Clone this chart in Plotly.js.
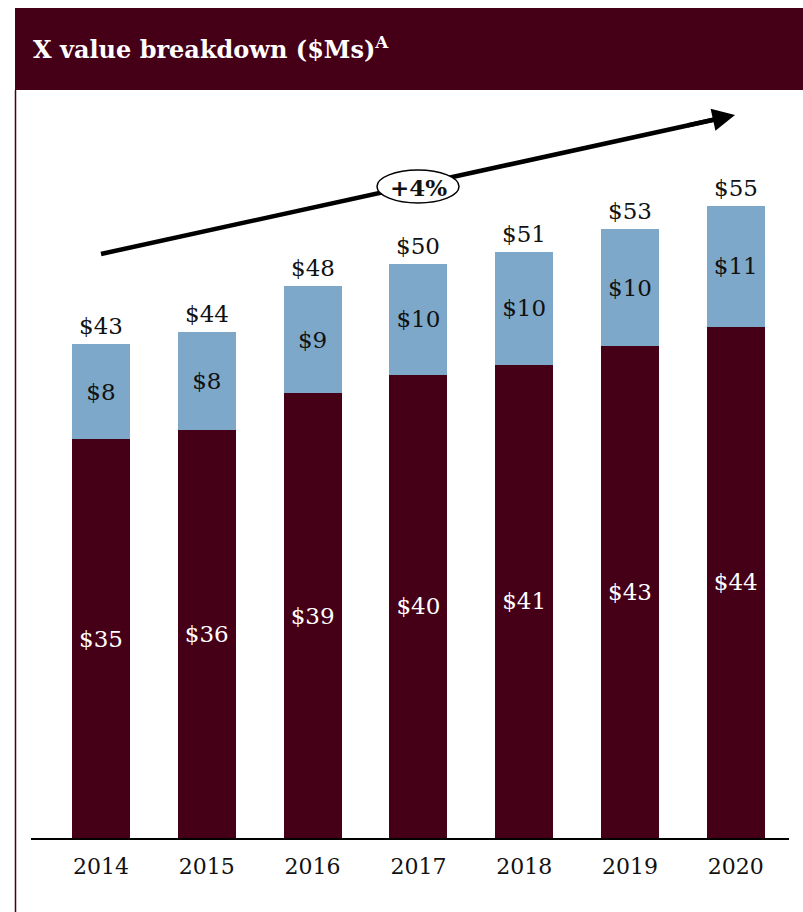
<!DOCTYPE html>
<html>
<head>
<meta charset="utf-8">
<script src="https://cdn.plot.ly/plotly-3.0.1.min.js"></script>
<style>html,body{margin:0;padding:0;background:#fff;}#chart{width:803px;height:912px;}</style>
</head>
<body>
<div id="chart"></div>
<script>
// ---- data ----
const years = ['2014', '2015', '2016', '2017', '2018', '2019', '2020'];
const baseValues = [34.7, 35.5, 38.7, 40.3, 41.2, 42.8, 44.5];
const topValues = [8.3, 8.5, 9.3, 9.7, 9.8, 10.2, 10.5];
const totals = [43, 44, 48, 50, 51, 53, 55];
const baseLabels = ['$35', '$36', '$39', '$40', '$41', '$43', '$44'];
const topLabels = ['$8', '$8', '$9', '$10', '$10', '$10', '$11'];
const totalLabels = ['$43', '$44', '$48', '$50', '$51', '$53', '$55'];
const growthLabel = '+4%';
const titleText = 'X value breakdown ($Ms)<sup>A</sup>';

// ---- style ----
const MAROON = '#450017';
const BLUE = '#7ea8ca';
const FONT = 'DejaVu Serif, Georgia, serif';

const traces = [
  {
    type: 'bar', x: years, y: baseValues, width: 0.55,
    marker: {color: MAROON, line: {width: 0}},
    text: baseLabels, textposition: 'inside', insidetextanchor: 'middle',
    textfont: {family: FONT, size: 23, color: '#ffffff'},
    hoverinfo: 'skip'
  },
  {
    type: 'bar', x: years, y: topValues, width: 0.55,
    marker: {color: BLUE, line: {width: 0}},
    text: topLabels, textposition: 'inside', insidetextanchor: 'middle',
    textfont: {family: FONT, size: 23, color: '#111111'},
    hoverinfo: 'skip'
  }
];

// pixel -> paper helpers for decorations (plot area: x 31..789, y 100..838)
const L = 31, W = 758, B = 838, H = 738;
const px = p => (p - L) / W;
const py = p => (B - p) / H;

// totals above each bar (x given as category index)
const totalAnnotations = years.map((yr, i) => ({
  xref: 'x', yref: 'y', x: i, y: totals[i], text: totalLabels[i],
  showarrow: false, xanchor: 'center', yanchor: 'middle', yshift: 18,
  font: {family: FONT, size: 23, color: '#111111'}
}));

const layout = {
  width: 803, height: 912,
  margin: {l: 31, r: 14, t: 100, b: 74},
  paper_bgcolor: '#ffffff', plot_bgcolor: '#ffffff',
  barmode: 'stack',
  showlegend: false,
  font: {family: FONT, color: '#111111'},
  title: {
    text: titleText, x: 33 / 803, xanchor: 'left', xref: 'container',
    y: 1 - 50 / 912, yanchor: 'middle', yref: 'container',
    font: {family: FONT, size: 24, color: '#ffffff', weight: 'bold'}
  },
  xaxis: {
    type: 'category', range: [-0.6616, 6.503],
    showline: true, linecolor: '#000000', linewidth: 2,
    showgrid: false, zeroline: false,
    ticks: 'outside', ticklen: 8, tickcolor: 'rgba(0,0,0,0)',
    tickfont: {family: FONT, size: 22, color: '#111111'}
  },
  yaxis: {
    range: [0, 64.23], visible: false, showgrid: false, zeroline: false
  },
  shapes: [
    {type: 'rect', xref: 'paper', yref: 'paper', x0: px(15), x1: px(803), y0: py(90), y1: py(8),
     fillcolor: MAROON, line: {width: 0}, layer: 'below'},
    {type: 'line', xref: 'paper', yref: 'paper', x0: px(15.5), x1: px(15.5), y0: py(90), y1: py(912),
     line: {color: MAROON, width: 1.5}},
    {type: 'line', xref: 'paper', yref: 'paper', x0: px(101), y0: py(254), x1: px(716), y1: py(119.3),
     line: {color: '#000000', width: 4.5}, layer: 'above'},
    {type: 'circle', xref: 'paper', yref: 'paper', x0: px(377), x1: px(459), y0: py(203), y1: py(170),
     fillcolor: '#ffffff', line: {color: '#000000', width: 1.5}, layer: 'above'}
  ],
  annotations: [
    {xref: 'paper', yref: 'paper', x: px(735), y: py(115), ax: -48.8, ay: 10.7,
     axref: 'pixel', ayref: 'pixel', showarrow: true, arrowhead: 2, arrowsize: 1, arrowwidth: 4.5,
     arrowcolor: '#000000', text: ''},
    {xref: 'paper', yref: 'paper', x: px(418), y: py(187), showarrow: false,
     text: '<b>' + growthLabel + '</b>', font: {family: FONT, size: 23, color: '#111111'},
     xanchor: 'center', yanchor: 'middle'}
  ].concat(totalAnnotations)
};

Plotly.newPlot('chart', traces, layout, {displayModeBar: false, staticPlot: true});
</script>
</body>
</html>
